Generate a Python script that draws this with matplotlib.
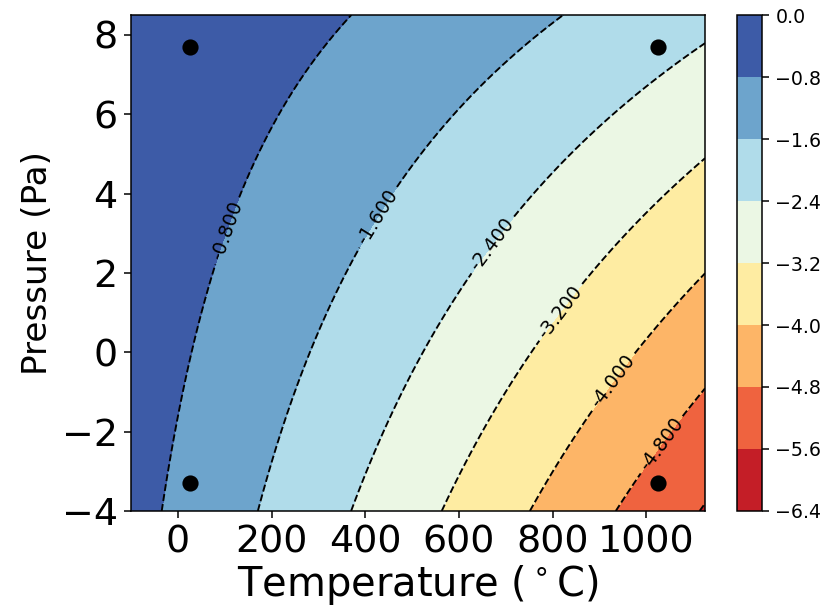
import numpy as np
import matplotlib
matplotlib.use("Agg")
import matplotlib.pyplot as plt

# fitted response surface: y = b0 + bT*T + bP*P + bTP*T*P + bTT*T^2
COEFFS = [-0.710, -0.003075, 0.0557, 0.0001957, -3.0e-7]

# design points (temperature in C, pressure in Pa)
design_temp = [25, 1025, 25, 1025]
design_pres = [7.7, 7.7, -3.3, -3.3]

T_LIM = (-100, 1125)
P_LIM = (-4, 8.5)
LEVELS = np.linspace(-6.4, 0.0, 9)

# where the contour labels sit
LABEL_POS = [(101, 3.08), (425, 3.42), (667, 2.75), (810, 1.07), (924, -0.70), (1023, -2.25)]


def response(t, p):
    b0, bt, bp, btp, btt = COEFFS
    return b0 + bt * t + bp * p + btp * t * p + btt * t ** 2


DPI = 137
fig = plt.figure(figsize=(820 / DPI, 610 / DPI), dpi=DPI)
ax = fig.add_axes([0.1598, 0.1623, 0.7, 0.8131])
cax = fig.add_axes([0.8988, 0.1623, 0.0305, 0.8131])

tt, pp = np.meshgrid(np.linspace(*T_LIM, 400), np.linspace(*P_LIM, 400))
zz = response(tt, pp)

filled = ax.contourf(tt, pp, zz, levels=LEVELS, cmap="RdYlBu")
lines = ax.contour(tt, pp, zz, levels=LEVELS, colors="k", linewidths=1.0)
ax.clabel(lines, fmt="%1.3f", fontsize=10, manual=LABEL_POS)

ax.plot(design_temp, design_pres, "ko", ms=7.5)

ax.set_xlim(*T_LIM)
ax.set_ylim(*P_LIM)
ax.set_xticks([0, 200, 400, 600, 800, 1000])
ax.set_yticks([-4, -2, 0, 2, 4, 6, 8])
ax.tick_params(labelsize=20)
ax.set_xlabel(r"Temperature ($^\circ$C)", fontsize=21, labelpad=1.5)
ax.set_ylabel("Pressure (Pa)", fontsize=18)

cbar = fig.colorbar(filled, cax=cax)
cbar.ax.tick_params(labelsize=10)

fig.savefig("out.png", dpi=DPI)
